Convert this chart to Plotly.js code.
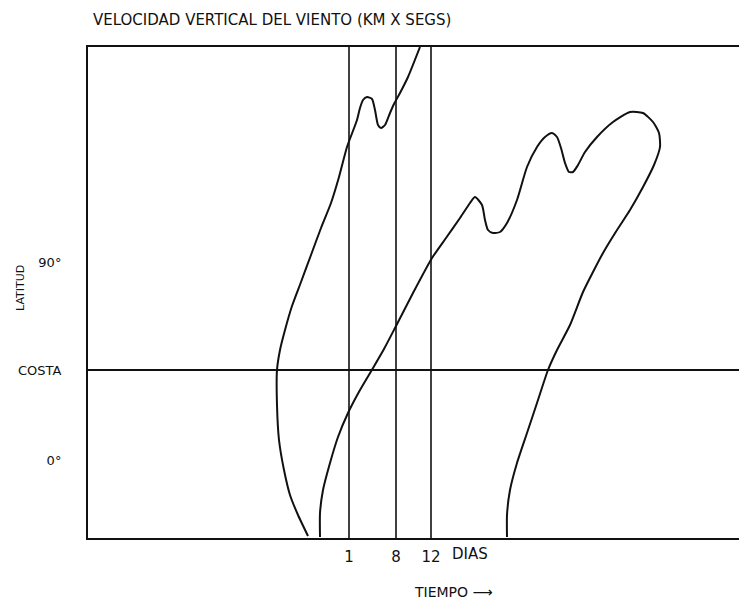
<!DOCTYPE html>
<html>
<head>
<meta charset="utf-8">
<script src="https://cdn.plot.ly/plotly-3.0.1.min.js"></script>
<style>html,body{margin:0;padding:0;background:#fff;}#chart{width:739px;height:608px;}</style>
</head>
<body>
<div id="chart"></div>
<script>
// Hand-drawn sketch: x = time (drawing units), y = latitude (drawing units)
const curveAX = [220, 210, 202, 196, 191, 189, 189, 192, 197, 204, 213, 223, 233, 243, 251, 259, 269, 272, 275, 279, 284, 287, 290, 293, 297, 302, 306, 312, 320, 332];
const curveAY = [2, 23, 43, 68, 98, 133, 168, 188, 208, 232, 256, 283, 310, 335, 361, 391, 418, 430, 438, 441, 439, 428, 413, 410, 413, 425, 434, 445, 461, 491];

const curveBX = [232, 232, 235, 242, 250, 260, 272, 285, 296, 307, 325, 344, 358, 372, 382, 387, 394, 397, 400, 405, 412, 419, 429, 439, 449, 457, 464, 469, 473, 477, 481, 485, 490, 497, 509, 525, 542, 555, 565, 571, 572, 566, 555, 542, 529, 515, 505, 495, 482, 469, 460, 449, 439, 429, 422, 419, 419];
const curveBY = [1, 25, 48, 75, 101, 125, 148, 170, 189, 210, 245, 280, 300, 320, 335, 341, 333, 318, 308, 305, 306, 315, 338, 371, 391, 401, 405, 401, 390, 375, 366, 366, 373, 386, 401, 416, 426, 425, 416, 405, 391, 373, 351, 328, 308, 285, 266, 246, 213, 188, 168, 135, 105, 75, 48, 23, 1];

const dayTicks = [261, 308, 343];
const dayLabels = ["1", "8", "12"];
const latTicks = [78, 168, 276];
const latLabels = ["0°", "COSTA", "90°"];
const costaLevel = 168;

const lineStyle = {color: "#111", width: 2, shape: "spline", smoothing: 0.6};

const traces = [
  {x: curveAX, y: curveAY, mode: "lines", line: lineStyle, hoverinfo: "skip", showlegend: false},
  {x: curveBX, y: curveBY, mode: "lines", line: lineStyle, hoverinfo: "skip", showlegend: false}
];

const shapes = dayTicks.map(v => ({type: "line", xref: "x", yref: "y", x0: v, x1: v, y0: 0, y1: 491, line: {color: "#111", width: 1.6}}));
shapes.push({type: "line", xref: "paper", yref: "y", x0: 0, x1: 1, y0: costaLevel, y1: costaLevel, line: {color: "#111", width: 2}});

const ff = "DejaVu Sans, sans-serif";

const layout = {
  width: 739, height: 608,
  margin: {l: 88, r: 0, t: 47, b: 70},
  paper_bgcolor: "#fff", plot_bgcolor: "#fff",
  font: {family: ff, color: "#111"},
  title: {text: "VELOCIDAD VERTICAL DEL VIENTO (KM X SEGS)", x: 0, xref: "paper", xanchor: "left", y: 0.967, yanchor: "middle", pad: {l: 5}, font: {family: ff, size: 15, color: "#111"}},
  xaxis: {range: [0, 651], showgrid: false, zeroline: false, showline: true, mirror: true, linecolor: "#111", linewidth: 2,
          tickmode: "array", tickvals: dayTicks, ticktext: dayLabels, ticks: "", ticklabelstandoff: 4,
          tickfont: {family: ff, size: 15, color: "#111"}, fixedrange: true},
  yaxis: {range: [0, 491], showgrid: false, zeroline: false, showline: true, linecolor: "#111", linewidth: 2,
          tickmode: "array", tickvals: latTicks, ticktext: latLabels, ticks: "", ticklabelstandoff: 22,
          tickfont: {family: ff, size: 13, color: "#111"}, fixedrange: true},
  shapes: shapes,
  annotations: [
    {text: "DIAS", xref: "x", yref: "paper", x: 362, y: 0, yshift: -16, xanchor: "left", yanchor: "middle", showarrow: false, font: {family: ff, size: 15, color: "#111"}},
    {text: "TIEMPO ⟶", xref: "paper", yref: "paper", x: (453 - 88) / 651, y: 0, yshift: -54, xanchor: "center", yanchor: "middle", showarrow: false, font: {family: ff, size: 14, color: "#111"}},
    {text: "LATITUD", xref: "paper", yref: "paper", x: 0, xshift: -68, y: (538 - 288) / 491, xanchor: "center", yanchor: "middle", textangle: -90, showarrow: false, font: {family: ff, size: 11, color: "#111"}}
  ]
};

Plotly.newPlot("chart", traces, layout, {displayModeBar: false, staticPlot: true});
</script>
</body>
</html>
